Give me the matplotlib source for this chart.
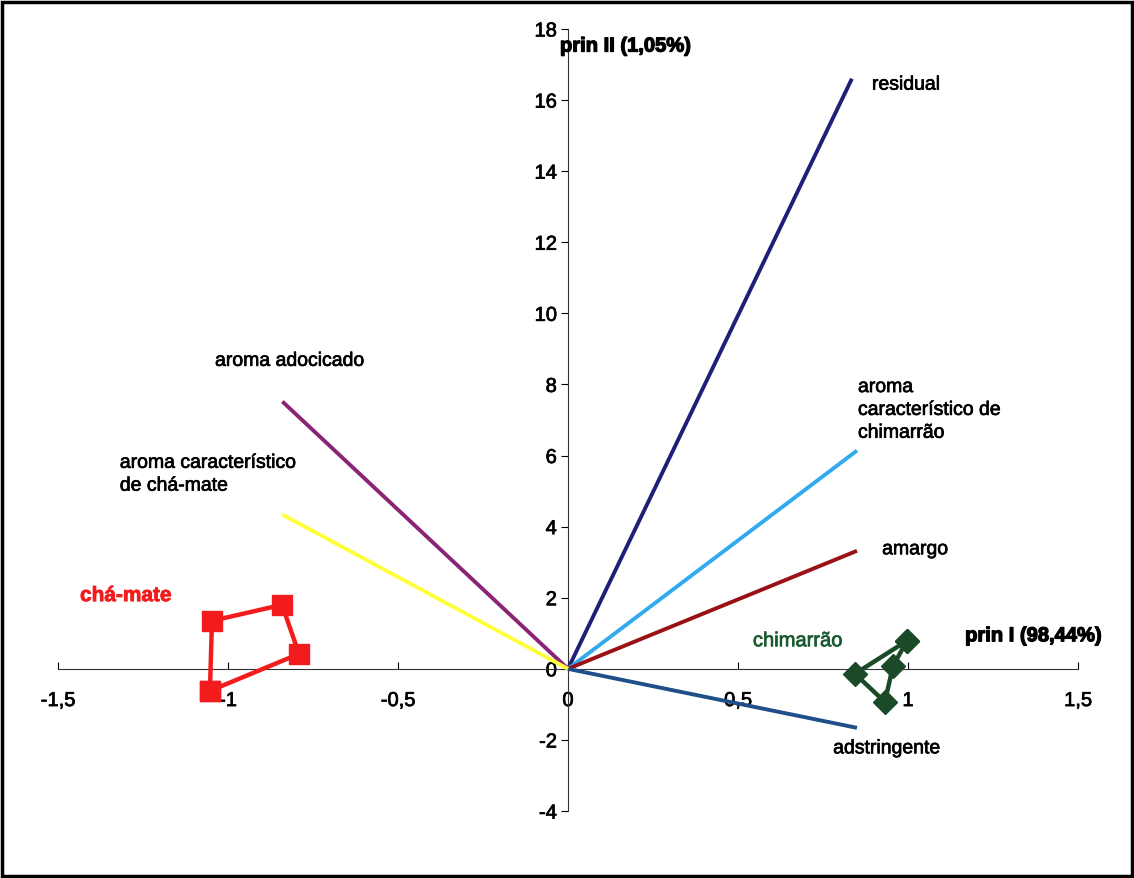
import matplotlib.pyplot as plt
import matplotlib.patheffects as pe
from matplotlib.patches import Rectangle

plt.rcParams['font.family'] = ['Liberation Sans', 'DejaVu Sans']
plt.rcParams['axes.unicode_minus'] = False

# =========================
# DATA
# =========================

vector_names = [
    'residual',
    'aroma\ncaracterístico de\nchimarrão',
    'amargo',
    'adstringente',
    'aroma adocicado',
    'aroma característico\nde chá-mate'
]

vector_x = [0.835, 0.85, 0.85, 0.85, -0.84, -0.84]

vector_y = [16.6, 6.14, 3.32, -1.66, 7.52, 4.34]

vector_colors = ['#1f1f7a', '#33aaee', '#9b1015', '#1f4f88', '#8a2474', '#ffff3c']

cha_mate_x = [-1.053, -1.047, -0.841, -0.791, -1.053]

cha_mate_y = [-0.62, 1.35, 1.80, 0.42, -0.62]

chimarrao_x = [0.997, 0.844, 0.932, 0.956, 0.997]

chimarrao_y = [0.79, -0.14, -0.93, 0.08, 0.79]

x_ticks = [-1.5, -1, -0.5, 0, 0.5, 1, 1.5]

x_tick_labels = ['-1,5', '-1', '-0,5', '0', '0,5', '1', '1,5']

y_ticks = [-4, -2, 0, 2, 4, 6, 8, 10, 12, 14, 16, 18]

# =========================
# FIGURE
# =========================

fig = plt.figure(
    figsize=(11.34, 8.79),
    dpi=100
)

ax = fig.add_axes([0.0511, 0.0762, 0.8995, 0.8897])

fig.patches.append(
    Rectangle(
        (0.002, 0.002), 0.996, 0.995,
        transform=fig.transFigure,
        fill=False,
        edgecolor='black',
        linewidth=2.5
    )
)

thick = [pe.withStroke(linewidth=0.5, foreground='black')]

bold_fx = [pe.withStroke(linewidth=0.9, foreground='black')]

# =========================
# VECTORS
# =========================

for x, y, c in zip(vector_x, vector_y, vector_colors):
    ax.plot([0, x], [0, y], color=c, linewidth=2.8, solid_capstyle='butt', zorder=3)

label_pos = [
    (0.894, 16.42),
    (0.853, 7.27),
    (0.924, 3.35),
    (0.78, -2.25),
    (-1.038, 8.65),
    (-1.318, 5.46)
]

for name, (tx, ty) in zip(vector_names, label_pos):
    ax.text(tx, ty, name, ha='left', va='center', fontsize=14,
            linespacing=1.45, path_effects=thick)

# =========================
# GROUPS
# =========================

ax.plot(
    cha_mate_x,
    cha_mate_y,
    color='#f21c1c',
    linewidth=3.2,
    marker='s',
    markersize=14,
    zorder=4
)

ax.plot(
    chimarrao_x,
    chimarrao_y,
    color='#1a4a28',
    linewidth=3.2,
    marker='D',
    markersize=12,
    zorder=4
)

ax.text(-1.435, 2.06, 'chá-mate', color='#f21c1c', fontsize=15,
        fontweight='bold', va='center',
        path_effects=[pe.withStroke(linewidth=0.6, foreground='#f21c1c')])

ax.text(0.544, 0.79, 'chimarrão', color='#1a5a30', fontsize=14.5, va='center',
        path_effects=[pe.withStroke(linewidth=0.5, foreground='#1a5a30')])

ax.text(1.168, 0.93, 'prin I (98,44%)', fontsize=14.5, fontweight='bold',
        va='center', path_effects=bold_fx)

ax.text(-0.0235, 17.52, 'prin II (1,05%)', fontsize=14.5, fontweight='bold',
        va='center', path_effects=bold_fx)

# =========================
# AXES
# =========================

ax.set_xlim(-1.5, 1.5)

ax.set_ylim(-4, 18)

for side in ['top', 'right']:
    ax.spines[side].set_visible(False)

ax.spines['left'].set_position(('data', 0))

ax.spines['bottom'].set_position(('data', 0))

ax.spines['left'].set_color('#333333')

ax.spines['bottom'].set_color('#333333')

ax.set_xticks(x_ticks)

ax.set_xticklabels(x_tick_labels)

ax.set_yticks(y_ticks)

ax.tick_params(axis='x', direction='in', length=5, pad=16, labelsize=14.5)

ax.tick_params(axis='y', direction='out', length=5, pad=3, labelsize=14.5)

for lbl in ax.get_xticklabels() + ax.get_yticklabels():
    lbl.set_path_effects(thick)

fig.savefig('out.png', dpi=100)
